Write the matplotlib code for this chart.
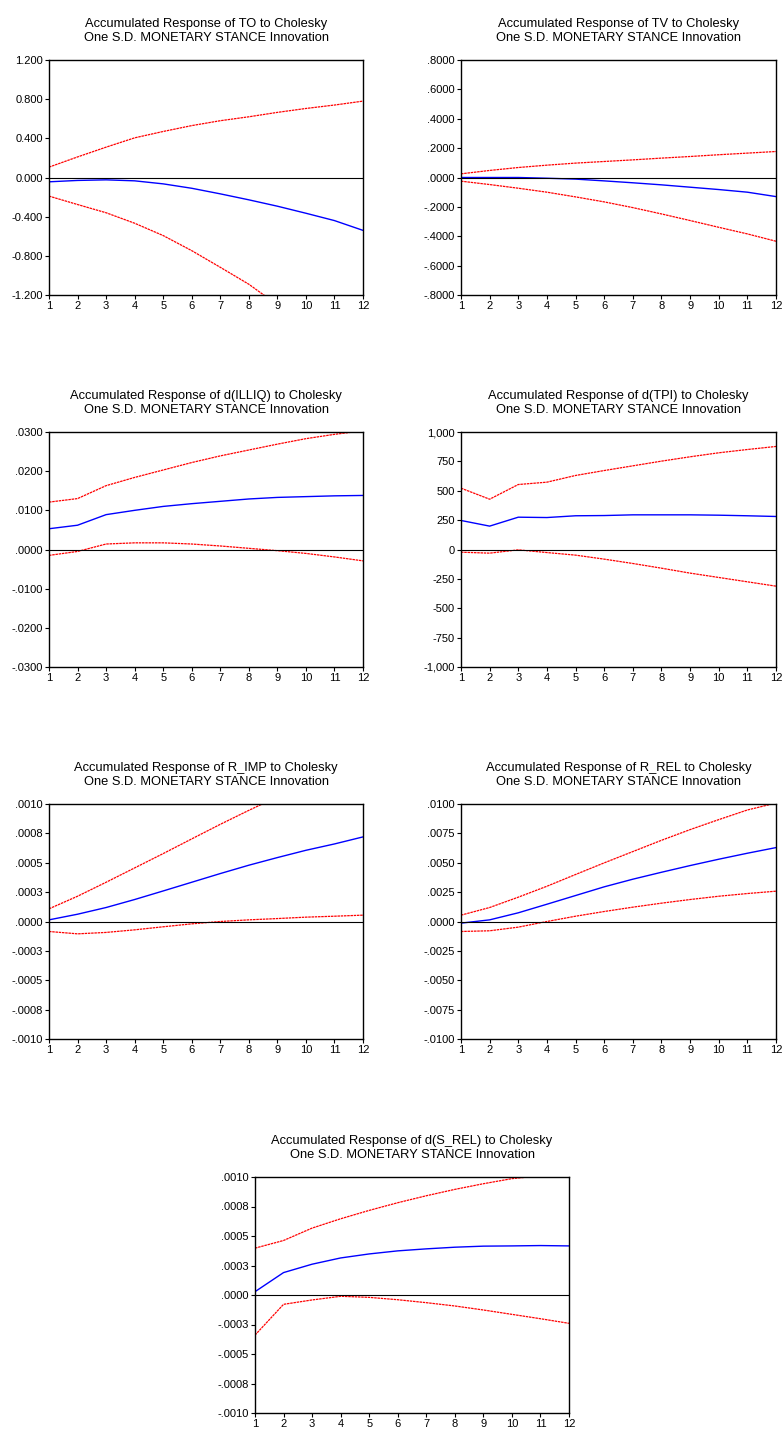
import matplotlib
matplotlib.use("Agg")
import matplotlib.pyplot as plt
import numpy as np

plt.rcParams['font.family'] = ['Liberation Sans', 'DejaVu Sans']

# Horizonte (periodos)
periods = list(range(1, 13))

# Variables de respuesta (títulos)
names = ['TO', 'TV', 'd(ILLIQ)', 'd(TPI)', 'R_IMP', 'R_REL', 'd(S_REL)']

# TO
to_mid = [-0.044, -0.030, -0.024, -0.034, -0.065, -0.110, -0.167, -0.228, -0.293, -0.365, -0.440, -0.540]
to_up = [0.106, 0.210, 0.310, 0.405, 0.470, 0.530, 0.580, 0.620, 0.665, 0.705, 0.740, 0.780]
to_lo = [-0.190, -0.276, -0.360, -0.467, -0.593, -0.747, -0.917, -1.090, -1.300, -1.520, -1.760, -2.000]

# TV
tv_mid = [0.000, 0.000, 0.000, -0.005, -0.011, -0.023, -0.036, -0.050, -0.066, -0.082, -0.100, -0.130]
tv_up = [0.025, 0.048, 0.068, 0.084, 0.098, 0.109, 0.120, 0.132, 0.143, 0.155, 0.166, 0.177]
tv_lo = [-0.025, -0.048, -0.073, -0.100, -0.132, -0.166, -0.205, -0.248, -0.293, -0.339, -0.384, -0.434]

# d(ILLIQ)
illiq_mid = [0.0053, 0.0062, 0.0089, 0.0100, 0.0110, 0.0117, 0.0123, 0.0129, 0.0133, 0.0135, 0.0137, 0.0138]
illiq_up = [0.0121, 0.0130, 0.0163, 0.0184, 0.0203, 0.0222, 0.0239, 0.0254, 0.0269, 0.0283, 0.0294, 0.0303]
illiq_lo = [-0.0015, -0.0005, 0.0014, 0.0017, 0.0017, 0.0014, 0.0009, 0.0003, -0.0003, -0.0010, -0.0019, -0.0029]

# d(TPI)
tpi_mid = [247, 199, 275, 272, 287, 289, 295, 295, 295, 292, 287, 281]
tpi_up = [522, 428, 553, 573, 630, 672, 712, 752, 789, 823, 851, 877]
tpi_lo = [-23, -31, -3, -26, -48, -82, -119, -159, -201, -238, -275, -312]

# R_IMP
rimp_mid = [0.000014, 0.000062, 0.000119, 0.000187, 0.000260, 0.000334, 0.000408, 0.000479, 0.000544, 0.000606, 0.000660, 0.000720]
rimp_up = [0.000108, 0.000215, 0.000334, 0.000456, 0.000578, 0.000703, 0.000827, 0.000946, 0.001060, 0.001180, 0.001290, 0.001400]
rimp_lo = [-0.000085, -0.000105, -0.000093, -0.000071, -0.000045, -0.000020, 0.000000, 0.000014, 0.000025, 0.000037, 0.000045, 0.000054]

# R_REL
rrel_mid = [-0.00014, 0.00014, 0.00074, 0.00147, 0.00221, 0.00295, 0.00360, 0.00419, 0.00476, 0.00530, 0.00581, 0.00629]
rrel_up = [0.00054, 0.00119, 0.00207, 0.00300, 0.00400, 0.00499, 0.00595, 0.00691, 0.00782, 0.00867, 0.00949, 0.01008]
rrel_lo = [-0.00085, -0.00079, -0.00048, 0.00000, 0.00045, 0.00085, 0.00122, 0.00156, 0.00187, 0.00215, 0.00238, 0.00258]

# d(S_REL)
srel_mid = [0.000028, 0.000190, 0.000261, 0.000314, 0.000348, 0.000374, 0.000391, 0.000405, 0.000414, 0.000416, 0.000419, 0.000416]
srel_up = [0.000397, 0.000462, 0.000567, 0.000646, 0.000717, 0.000782, 0.000841, 0.000895, 0.000943, 0.000986, 0.001010, 0.001030]
srel_lo = [-0.000340, -0.000079, -0.000042, -0.000011, -0.000020, -0.000040, -0.000065, -0.000093, -0.000127, -0.000164, -0.000201, -0.000240]

# Etiquetas del eje y (de arriba hacia abajo)
to_labels = ['1.200', '0.800', '0.400', '0.000', '-0.400', '-0.800', '-1.200']
tv_labels = ['.8000', '.6000', '.4000', '.2000', '.0000', '-.2000', '-.4000', '-.6000', '-.8000']
illiq_labels = ['.0300', '.0200', '.0100', '.0000', '-.0100', '-.0200', '-.0300']
tpi_labels = ['1,000', '750', '500', '250', '0', '-250', '-500', '-750', '-1,000']
rimp_labels = ['.0010', '.0008', '.0005', '.0003', '.0000', '-.0003', '-.0005', '-.0008', '-.0010']
rrel_labels = ['.0100', '.0075', '.0050', '.0025', '.0000', '-.0025', '-.0050', '-.0075', '-.0100']
srel_labels = ['.0010', '.0008', '.0005', '.0003', '.0000', '-.0003', '-.0005', '-.0008', '-.0010']

panels = [
    (names[0], to_mid, to_up, to_lo, 1.2, to_labels),
    (names[1], tv_mid, tv_up, tv_lo, 0.8, tv_labels),
    (names[2], illiq_mid, illiq_up, illiq_lo, 0.03, illiq_labels),
    (names[3], tpi_mid, tpi_up, tpi_lo, 1000, tpi_labels),
    (names[4], rimp_mid, rimp_up, rimp_lo, 0.001, rimp_labels),
    (names[5], rrel_mid, rrel_up, rrel_lo, 0.01, rrel_labels),
    (names[6], srel_mid, srel_up, srel_lo, 0.001, srel_labels),
]

W, H = 784, 1429
fig = plt.figure(figsize=(W / 100, H / 100), dpi=100)

# posiciones de los ejes en pixeles: (izq, der, arriba, abajo)
boxes = [
    (49, 363, 60, 295), (461, 776, 60, 295),
    (49, 363, 432, 667), (461, 776, 432, 667),
    (49, 363, 804, 1039), (461, 776, 804, 1039),
    (255, 569, 1177, 1413),
]

for (name, mid, up, lo, lim, ylabels), (l, r, t, b) in zip(panels, boxes):
    ax = fig.add_axes([l / W, 1 - b / H, (r - l) / W, (b - t) / H])
    ax.plot(periods, up, color='red', lw=0.9, ls=(0, (2, 0.6)))
    ax.plot(periods, lo, color='red', lw=0.9, ls=(0, (2, 0.6)))
    ax.plot(periods, mid, color='blue', lw=1.0)
    ax.axhline(0, color='black', lw=0.8)

    ax.set_xlim(1, 12)
    ax.set_ylim(-lim, lim)
    ax.set_xticks(periods)
    ax.set_xticklabels([str(p) for p in periods])
    ax.set_yticks(np.linspace(lim, -lim, len(ylabels)))
    ax.set_yticklabels(ylabels)
    ax.tick_params(direction='out', length=3, width=0.8, labelsize=8, pad=1.5)
    for s in ax.spines.values():
        s.set_linewidth(1.0)

    ax.set_title(f'Accumulated Response of {name} to Cholesky\nOne S.D. MONETARY STANCE Innovation',
                 fontsize=9.3, pad=14, linespacing=1.15)

plt.savefig('out.png', dpi=100)
plt.close()
